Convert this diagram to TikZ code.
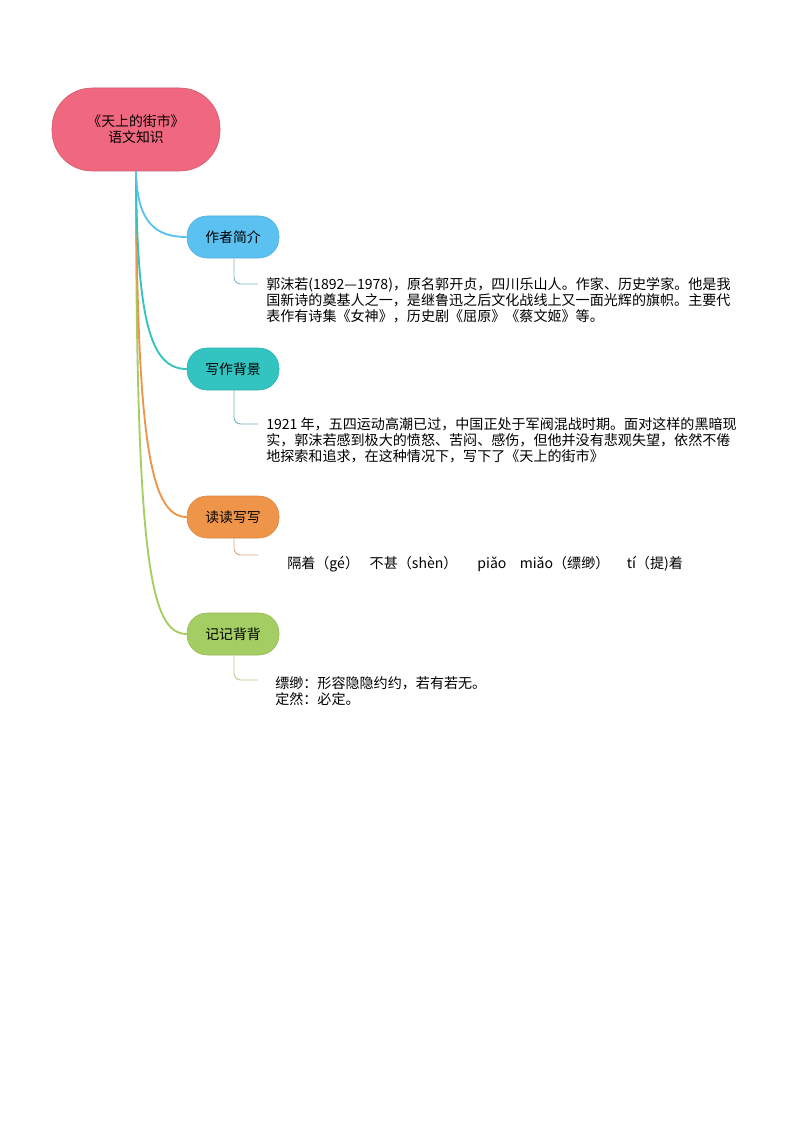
\documentclass[tikz,border=0pt]{standalone}
\usepackage{fontspec}
\setmainfont{Noto Sans CJK SC}
\newfontfamily\cjk{Noto Sans CJK SC}
\definecolor{rootc}{HTML}{F0687F}
\definecolor{bluec}{HTML}{5BC1F0}
\definecolor{tealc}{HTML}{33C4C2}
\definecolor{orangec}{HTML}{EF954A}
\definecolor{greenc}{HTML}{A4CE63}
\definecolor{bluel}{HTML}{7FB3CC}
\definecolor{teall}{HTML}{6FB2B4}
\definecolor{orangel}{HTML}{D7A684}
\definecolor{greenl}{HTML}{BCC58E}
\begin{document}
\begin{tikzpicture}[x=0.75pt,y=-0.75pt,
  txt/.style={font=\cjk\fontsize{10.4}{12}\selectfont},
  leaftxt/.style={font=\cjk\fontsize{10.55}{12}\selectfont},
  rootbox/.style={txt,fill=rootc,draw=rootc!85!black,line width=0.4pt,rounded corners=30pt,minimum width=126pt,minimum height=62.25pt,align=center,inner sep=0pt},
  branch/.style={txt,rounded corners=15pt,minimum width=69pt,minimum height=31.5pt,inner sep=0pt,line width=0.4pt},
  leaf/.style={leaftxt,anchor=north west,inner sep=0pt,align=left},
  mainline/.style={line width=1.4pt},
  leafline/.style={line width=0.7pt,rounded corners=5pt}]
\useasboundingbox (0,0) rectangle (794,1123);

\node[rootbox] (root) at (136,129.5) {《天上的街市》\\语文知识};

\node[branch,fill=bluec,draw=bluec!90!black] (b1) at (233,237) {作者简介};
\node[branch,fill=tealc,draw=tealc!90!black] (b2) at (233,369) {写作背景};
\node[branch,fill=orangec,draw=orangec!90!black] (b3) at (233,517) {读读写写};
\node[branch,fill=greenc,draw=greenc!90!black] (b4) at (233,634) {记记背背};

\draw[mainline,greenc] (root.south) .. controls (136,560) and (150,634) .. (b4.west);
\draw[mainline,orangec] (root.south) .. controls (137,440) and (150,517) .. (b3.west);
\draw[mainline,tealc] (root.south) .. controls (137,320) and (150,369) .. (b2.west);
\draw[mainline,bluec] (root.south) .. controls (137,222) and (155,237) .. (b1.west);

\node[leaf] (t1) at (266,277) {郭沫若(1892—1978)，原名郭开贞，四川乐山人。作家、历史学家。他是我\\国新诗的奠基人之一，是继鲁迅之后文化战线上又一面光辉的旗帜。主要代\\表作有诗集《女神》，历史剧《屈原》《蔡文姬》等。};
\node[leaf] (t2) at (266,417) {1921 年，五四运动高潮已过，中国正处于军阀混战时期。面对这样的黑暗现\\实，郭沫若感到极大的愤怒、苦闷、感伤，但他并没有悲观失望，依然不倦\\地探索和追求，在这种情况下，写下了《天上的街市》};
\node[leaf] (t3) at (287,556) {隔着（gé）\hspace{8pt}不甚（shèn）\hspace{15pt}piǎo\hspace{10pt}miǎo（缥缈）\hspace{13pt}tí（提)着};
\node[leaf] (t4) at (275,676) {缥缈：形容隐隐约约，若有若无。\\定然：必定。};

\coordinate (c1) at (258,284);
\coordinate (c2) at (258,424);
\coordinate (c3) at (258,555);
\coordinate (c4) at (258,680);
\draw[leafline,bluel] (b1.south) ++(1,0) |- (c1);
\draw[leafline,teall] (b2.south) ++(1,0) |- (c2);
\draw[leafline,orangel] (b3.south) ++(1,0) |- (c3);
\draw[leafline,greenl] (b4.south) ++(1,0) |- (c4);
\end{tikzpicture}
\end{document}
